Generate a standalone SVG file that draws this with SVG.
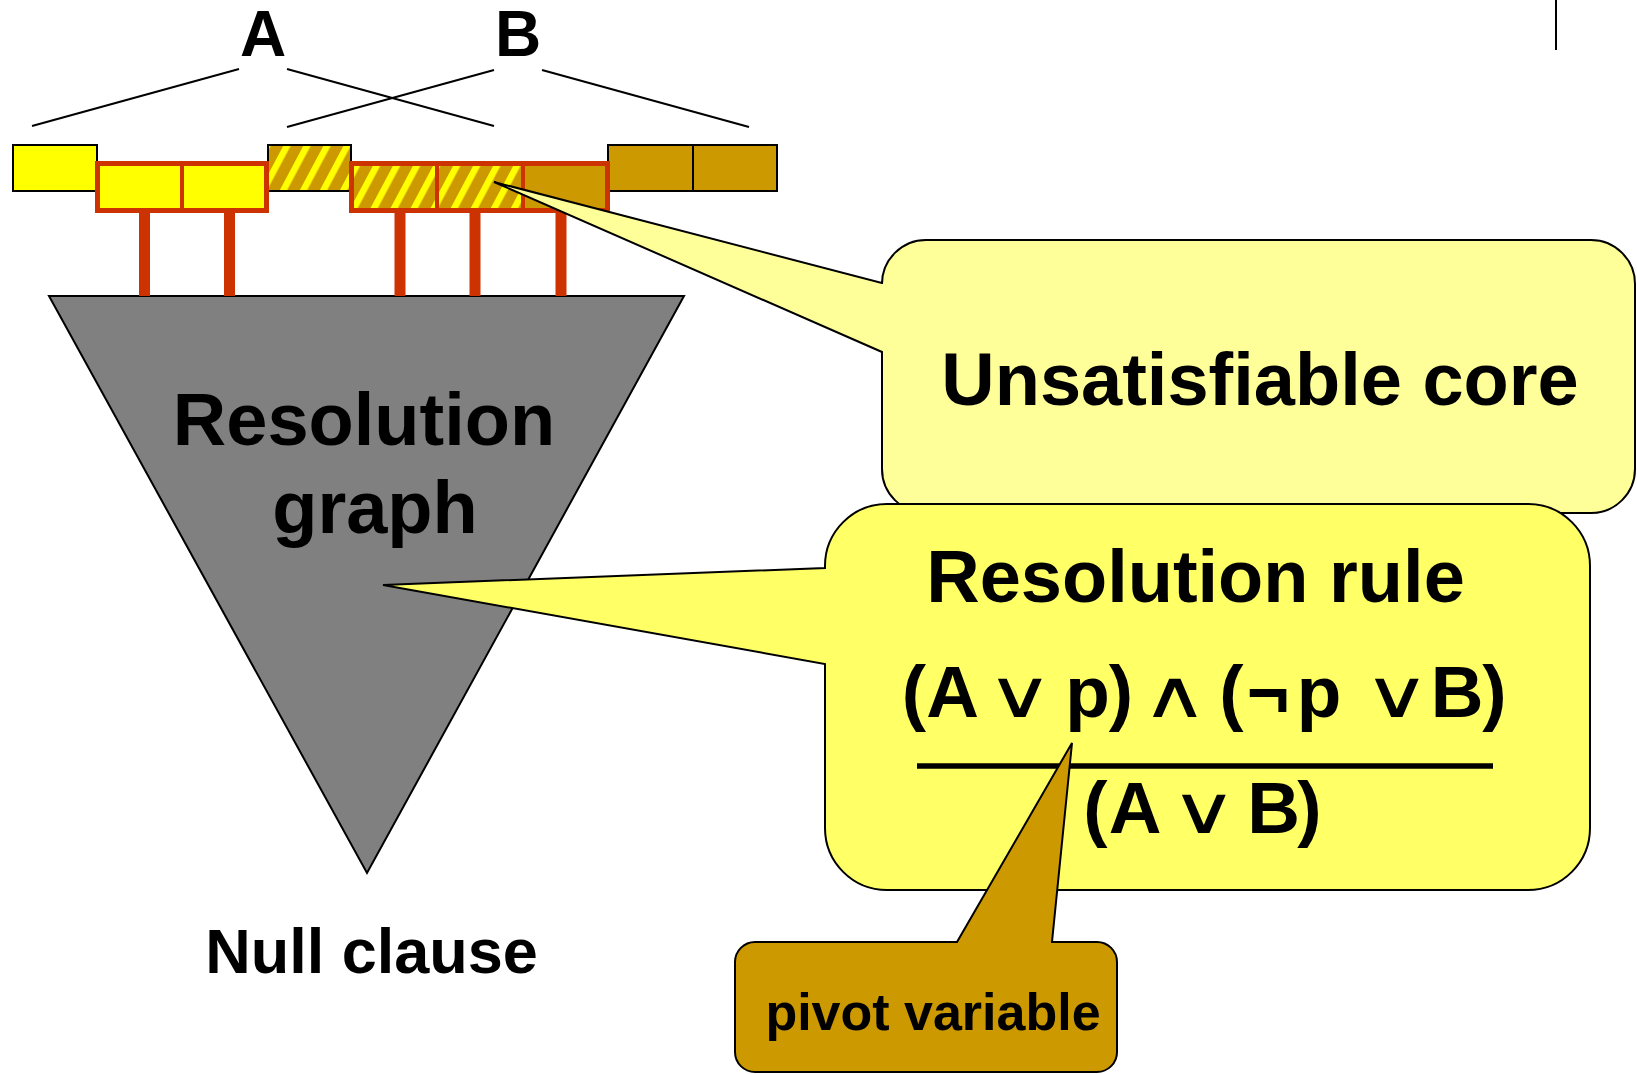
<svg xmlns="http://www.w3.org/2000/svg" width="1637" height="1074" viewBox="0 0 1637 1074">
<style>
.t{font-family:"Liberation Sans",Arial,sans-serif;font-weight:bold;fill:#000}
.sym{font-family:"DejaVu Sans",sans-serif;font-weight:200;font-size:66px;fill:#000;text-anchor:middle}
.blk{stroke:#000;stroke-width:2}
.red{fill:none;stroke:#CC3300;stroke-width:5}
.ln{stroke:#000;stroke-width:2;fill:none}
</style>
<defs>
<pattern id="hatch" patternUnits="userSpaceOnUse" width="17.7" height="20" patternTransform="rotate(28)">
<rect width="17.7" height="20" fill="#CC9900"/>
<rect x="0" width="6.5" height="20" fill="#FFFF00"/>
</pattern>
</defs>
<rect width="1637" height="1074" fill="#fff"/>
<line x1="1556" y1="0" x2="1556" y2="50" class="ln"/>

<g id="triangle">
<polygon points="49,296 684,296 367,873" fill="#808080" class="blk"/>
<text class="t" x="364" y="445" font-size="74" text-anchor="middle">Resolution</text>
<text class="t" x="375" y="533" font-size="74" text-anchor="middle">graph</text>
</g>
<g id="null-clause">
<text class="t" x="371.5" y="973" font-size="63" text-anchor="middle">Null clause</text>
</g>

<g id="label-A"><text class="t" x="263" y="56" font-size="64" text-anchor="middle">A</text></g>
<g id="label-B"><text class="t" x="518" y="56" font-size="64" text-anchor="middle">B</text></g>

<g id="connectors">
<line x1="32" y1="126" x2="239" y2="69" class="ln"/>
<line x1="287" y1="69" x2="494" y2="126" class="ln"/>
<line x1="287" y1="127" x2="494" y2="70" class="ln"/>
<line x1="542" y1="70" x2="749" y2="127" class="ln"/>
<g fill="#CC3300">
<rect x="139" y="211" width="11" height="85"/>
<rect x="224" y="211" width="11" height="85"/>
<rect x="394.5" y="211" width="11" height="85"/>
<rect x="469.5" y="211" width="11" height="85"/>
<rect x="555.5" y="211" width="11" height="85"/>
</g>
</g>

<g id="clause-1"><rect x="13" y="145" width="84" height="46" fill="#FFFF00" class="blk"/></g>
<g id="clause-4"><rect x="268" y="145" width="83" height="46" fill="url(#hatch)" class="blk"/></g>
<g id="clause-8">
<rect x="608" y="145" width="169" height="46" fill="#CC9900" class="blk"/>
<line x1="693" y1="145" x2="693" y2="191" class="ln"/>
</g>
<g id="core-group-1">
<rect x="97.5" y="163.5" width="169" height="47" fill="#FFFF00"/>
<rect x="97.5" y="163.5" width="169" height="47" class="red"/>
<line x1="182" y1="163" x2="182" y2="211" stroke="#CC3300" stroke-width="4"/>
</g>
<g id="core-group-2">
<rect x="351.5" y="163.5" width="171.5" height="47" fill="url(#hatch)"/>
<rect x="523" y="163.5" width="84.5" height="47" fill="#CC9900"/>
<rect x="351.5" y="163.5" width="256" height="47" class="red"/>
<line x1="437" y1="163" x2="437" y2="211" stroke="#CC3300" stroke-width="4"/>
<line x1="523" y1="163" x2="523" y2="211" stroke="#CC3300" stroke-width="4"/>
</g>

<g id="unsat-core">
<path d="M 926 240 H 1591 A 44 44 0 0 1 1635 284 V 469 A 44 44 0 0 1 1591 513 H 926 A 44 44 0 0 1 882 469 V 352 L 494 182 L 882 283 V 284 A 44 44 0 0 1 926 240 Z" fill="#FFFF99" class="blk"/>
<text class="t" x="1260" y="405" font-size="74" text-anchor="middle">Unsatisfiable core</text>
</g>

<g id="resolution-rule">
<path d="M 887 504 H 1528 A 62 62 0 0 1 1590 566 V 828 A 62 62 0 0 1 1528 890 H 887 A 62 62 0 0 1 825 828 V 664 L 383 585 L 825 568 V 566 A 62 62 0 0 1 887 504 Z" fill="#FFFF66" class="blk"/>
<text class="t" x="1195.5" y="602" font-size="74" text-anchor="middle">Resolution rule</text>
<text class="t" y="717" font-size="73" text-anchor="middle"><tspan x="914">(</tspan><tspan x="952.5">A</tspan><tspan x="1087.5">p</tspan><tspan x="1121">)</tspan><tspan x="1231.5">(</tspan><tspan x="1268">¬</tspan><tspan x="1319">p</tspan><tspan x="1457">B</tspan><tspan x="1494.5">)</tspan></text>
<text class="sym" transform="translate(1020 717) scale(1.4 1)">∨</text>
<text class="sym" transform="translate(1175 717) scale(1.4 1)">∧</text>
<text class="sym" transform="translate(1396.5 717) scale(1.4 1)">∨</text>
<line x1="917" y1="766" x2="1493" y2="766" stroke="#000" stroke-width="5.5"/>
<text class="t" y="833" font-size="73" text-anchor="middle"><tspan x="1095.5">(</tspan><tspan x="1135">A</tspan><tspan x="1273.5">B</tspan><tspan x="1309.5">)</tspan></text>
<text class="sym" transform="translate(1203.5 833) scale(1.4 1)">∨</text>
</g>

<g id="pivot-variable">
<path d="M 755 942 H 957 L 1072 743 L 1052 942 H 1097 A 20 20 0 0 1 1117 962 V 1052 A 20 20 0 0 1 1097 1072 H 755 A 20 20 0 0 1 735 1052 V 962 A 20 20 0 0 1 755 942 Z" fill="#CC9900" class="blk"/>
<text class="t" x="933" y="1030" font-size="52" text-anchor="middle">pivot variable</text>
</g>
</svg>
